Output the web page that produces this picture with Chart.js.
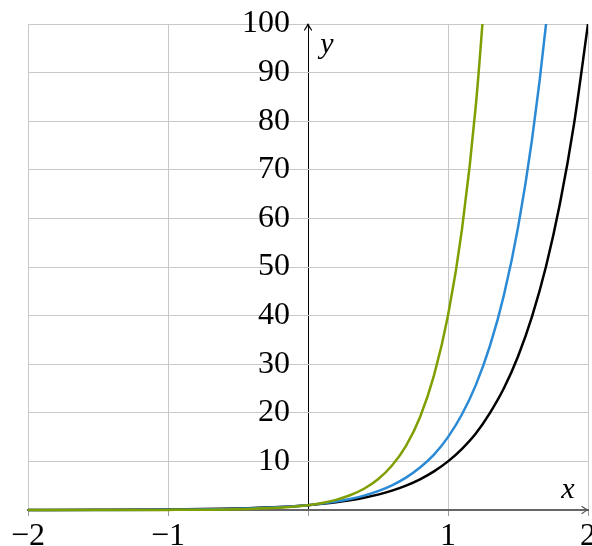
<!DOCTYPE html>
<html>
<head>
<meta charset="utf-8">
<script src="https://cdn.jsdelivr.net/npm/chart.js@4"></script>
<style>
  html, body { margin: 0; padding: 0; background: #fff; overflow: hidden; }
  #wrap { width: 606px; height: 546px; }
</style>
</head>
<body>
<div id="wrap"><canvas id="chart"></canvas></div>
<script>
/* data: x positions and the three curves */
const xs = [-2, -1.5, -1, -0.5, -0.25, 0, 0.1, 0.2, 0.3, 0.4, 0.5, 0.6, 0.7, 0.8, 0.9,
            1.0, 1.1, 1.2, 1.3, 1.4, 1.5, 1.6, 1.7, 1.8, 1.9, 2.0];
const greenY = [0.0006, 0.004, 0.025, 0.16, 0.4, 1, 1.45, 2.09, 3.03, 4.37, 6.32, 9.15,
                13.2, 19.1, 27.7, 40, 57.8, 83.6, 121];
const blueY  = [0.004, 0.017, 0.067, 0.26, 0.51, 1, 1.31, 1.72, 2.25, 2.95, 3.87, 5.08,
                6.66, 8.73, 11.4, 15, 19.7, 25.8, 33.8, 44.3, 58.1, 76.2, 99.9, 131];
const blackY = [0.01, 0.03, 0.1, 0.32, 0.56, 1, 1.26, 1.58, 2.0, 2.51, 3.16, 3.98, 5.01,
                6.31, 7.94, 10, 12.6, 15.8, 20, 25.1, 31.6, 39.8, 50.1, 63.1, 79.4, 100];
const xTicks = [-2, -1, 1, 2];
const yTicks = [10, 20, 30, 40, 50, 60, 70, 80, 90, 100];

const toPts = ys => ys.map((y, i) => ({ x: xs[i], y }));
const serif = "'Liberation Serif', 'DejaVu Serif', serif";

const line = (ys, color) => ({
  data: toPts(ys),
  borderColor: color,
  borderWidth: 2.5,
  pointRadius: 0,
  cubicInterpolationMode: "monotone",
  clip: { left: 0, right: 0, top: 0, bottom: 5 }
});

/* arrows and axis names */
const axisDecor = {
  id: "axisDecor",
  afterDraw(chart) {
    const { ctx, chartArea: a, scales: { x, y } } = chart;
    const x0 = x.getPixelForValue(0), y0 = y.getPixelForValue(0);
    ctx.save();
    ctx.lineWidth = 1.2;
    ctx.lineCap = "round";
    ctx.lineJoin = "round";
    // y arrow
    ctx.strokeStyle = "#000";
    ctx.beginPath();
    ctx.moveTo(x0 - 3.5, a.top + 6);
    ctx.quadraticCurveTo(x0 - 0.5, a.top + 2, x0, a.top);
    ctx.quadraticCurveTo(x0 + 0.5, a.top + 2, x0 + 3.5, a.top + 6);
    ctx.stroke();
    // x arrow
    ctx.strokeStyle = "#555";
    ctx.beginPath();
    ctx.moveTo(a.right - 6, y0 - 3.5);
    ctx.quadraticCurveTo(a.right - 2, y0 - 0.5, a.right, y0);
    ctx.quadraticCurveTo(a.right - 2, y0 + 0.5, a.right - 6, y0 + 3.5);
    ctx.stroke();
    // names
    ctx.fillStyle = "#000";
    ctx.font = "italic 30px " + serif;
    ctx.textAlign = "center";
    ctx.textBaseline = "alphabetic";
    ctx.fillText("y", x0 + 19, a.top + 29);
    ctx.fillText("x", a.right - 20, y0 - 12);
    ctx.restore();
  }
};

new Chart(document.getElementById("chart"), {
  type: "line",
  data: {
    datasets: [
      line(greenY, "#7f9f00"),
      line(blueY, "#2a8ad6"),
      line(blackY, "#000000")
    ]
  },
  options: {
    responsive: true,
    maintainAspectRatio: false,
    animation: false,
    layout: { padding: { left: 28, top: 24, right: 18, bottom: 36 } },
    plugins: { legend: { display: false }, tooltip: { enabled: false } },
    scales: {
      x: {
        type: "linear",
        min: -2, max: 2,
        position: { y: 0 },
        afterBuildTicks: s => { s.ticks = [-2, -1, 0, 1, 2].map(v => ({ value: v })); },
        grid: {
          color: c => c.tick && c.tick.value === 0 ? "#000" : "#c8c8c8",
          lineWidth: 1, tickLength: 5, tickColor: "#999"
        },
        border: { display: true, color: "#666", width: 2 },
        ticks: {
          color: "#000",
          font: { family: serif, size: 32 },
          padding: 2,
          maxRotation: 0,
          callback: v => xTicks.includes(v) ? (v < 0 ? "\u2212" + Math.abs(v) : String(v)) : ""
        }
      },
      y: {
        type: "linear",
        min: 0, max: 100,
        position: { x: -0.1286 },
        afterBuildTicks: s => { s.ticks = [0].concat(yTicks).map(v => ({ value: v })); },
        grid: { color: "#c8c8c8", lineWidth: 1, drawTicks: false },
        border: { display: false },
        ticks: {
          color: "#000",
          font: { family: serif, size: 32 },
          padding: 0,
          callback: v => yTicks.includes(v) ? String(v) : ""
        }
      }
    }
  },
  plugins: [axisDecor]
});
</script>
</body>
</html>
